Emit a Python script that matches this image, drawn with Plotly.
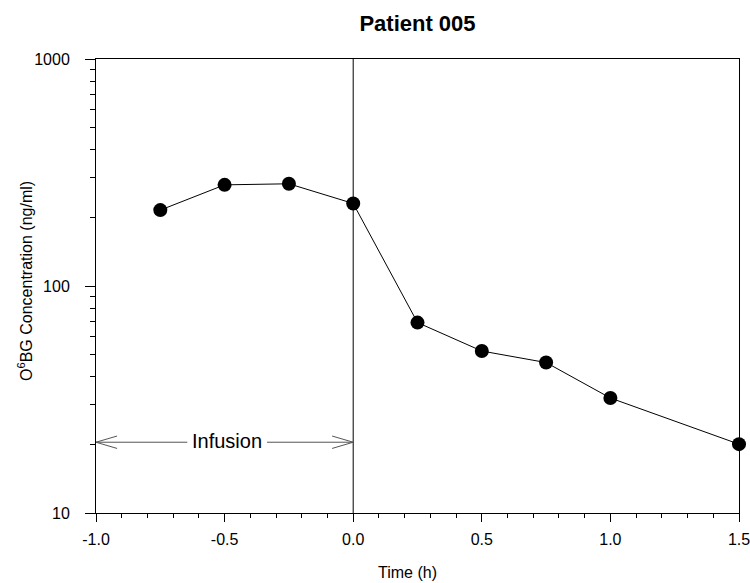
import math
import plotly.graph_objects as go

# Data
time_h = [-0.75, -0.5, -0.25, 0.0, 0.25, 0.5, 0.75, 1.0, 1.5]
conc = [216, 279, 282, 231, 69, 51.7, 46, 32.1, 20.1]

x_ticks = [-1.0, -0.5, 0.0, 0.5, 1.0, 1.5]
x_ticklabels = ["-1.0", "-0.5", "0.0", "0.5", "1.0", "1.5"]
y_ticks = [10, 100, 1000]
y_ticklabels = ["10", "100", "1000"]

infusion_start = -1.0
infusion_end = 0.0
infusion_level = 20.5
infusion_label = "Infusion"
label_center = -0.49
label_halfwidth = 0.155  # gap around label (x units)

FONT = "Liberation Sans, Arial, sans-serif"
head_dx = 0.082
head_fy = 1.065
arrow_color = "#555555"

fig = go.Figure()

# arrow body (two segments around the label)
fig.add_trace(go.Scatter(
    x=[infusion_start, label_center - label_halfwidth, None,
       label_center + label_halfwidth, infusion_end],
    y=[infusion_level, infusion_level, None, infusion_level, infusion_level],
    mode="lines", line=dict(color=arrow_color, width=1),
    hoverinfo="skip", showlegend=False))
# arrow heads
fig.add_trace(go.Scatter(
    x=[infusion_start + head_dx, infusion_start, infusion_start + head_dx, None,
       infusion_end - head_dx, infusion_end, infusion_end - head_dx],
    y=[infusion_level * head_fy, infusion_level, infusion_level / head_fy, None,
       infusion_level * head_fy, infusion_level, infusion_level / head_fy],
    mode="lines", line=dict(color=arrow_color, width=1),
    hoverinfo="skip", showlegend=False))

# data
fig.add_trace(go.Scatter(
    x=time_h, y=conc, mode="lines+markers",
    line=dict(color="black", width=1),
    marker=dict(color="black", size=14),
    showlegend=False, cliponaxis=False))

# vertical line at end of infusion
fig.add_shape(type="line", xref="x", yref="paper", x0=infusion_end, x1=infusion_end,
              y0=0, y1=1, line=dict(color="black", width=1), layer="below")

fig.add_annotation(x=label_center, y=math.log10(infusion_level), yref="y", xref="x",
                   text=infusion_label, showarrow=False,
                   font=dict(family=FONT, size=20, color="black"),
                   yshift=1)

# x axis title
fig.add_annotation(x=0.484, y=0, xref="paper", yref="paper", yanchor="middle",
                   yshift=-59, text="Time (h)", showarrow=False,
                   font=dict(family=FONT, size=16, color="black"))

# y axis title
fig.add_annotation(x=0, y=0.511, xref="paper", yref="paper", xanchor="center",
                   yanchor="middle", xshift=-71, textangle=-90,
                   text="O<sup>6</sup>BG Concentration (ng/ml)", showarrow=False,
                   font=dict(family=FONT, size=16, color="black"))

fig.update_layout(
    width=750, height=583,
    margin=dict(l=96, r=11, t=59, b=70),
    paper_bgcolor="white", plot_bgcolor="white",
    font=dict(family=FONT, size=16, color="black"),
    title=dict(text="<b>Patient 005</b>", x=0.5, xref="paper", xanchor="center",
               y=1 - 23 / 583, yanchor="middle",
               font=dict(family=FONT, size=22, color="black")),
    xaxis=dict(
        range=[-1.0, 1.5], tickvals=x_ticks, ticktext=x_ticklabels,
        ticks="outside", ticklen=8, tickwidth=1, tickcolor="black",
        minor=dict(ticks="outside", ticklen=4, dtick=0.1, tickcolor="black", showgrid=False),
        showline=True, linecolor="black", linewidth=1, mirror=True,
        showgrid=False, zeroline=False, automargin=False,
        ticklabeloverflow="allow", ticklabelstandoff=4,
        tickfont=dict(size=16),
    ),
    yaxis=dict(
        type="log", range=[1, 3], tickvals=y_ticks, ticktext=y_ticklabels,
        ticks="outside", ticklen=10, tickwidth=1, tickcolor="black",
        minor=dict(ticks="outside", ticklen=5, tickvals=[v * m for v in [10, 100] for m in range(2, 10)],
                   tickcolor="black", showgrid=False),
        showline=True, linecolor="black", linewidth=1, mirror=True,
        showgrid=False, zeroline=False, automargin=False,
        ticklabeloverflow="allow", ticklabelstandoff=12,
        tickfont=dict(size=16),
    ),
)

fig.write_html("out.html")
